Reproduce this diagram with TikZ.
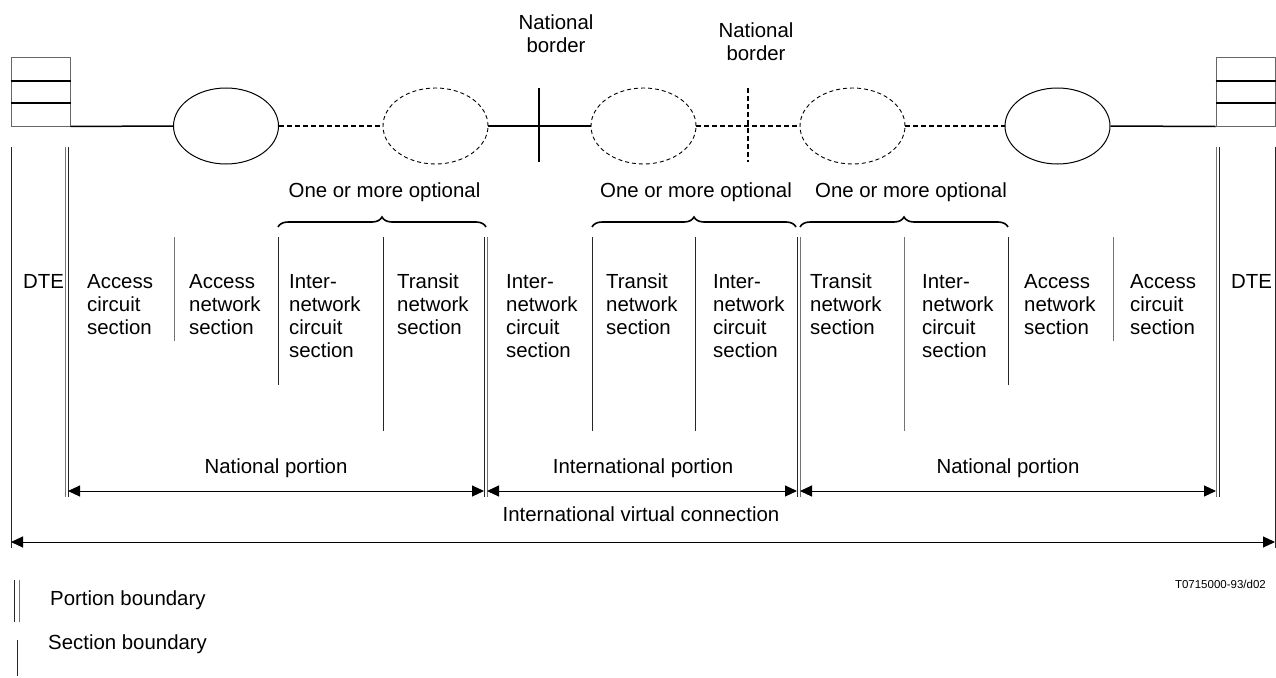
\documentclass[tikz,border=0pt]{standalone}
\usepackage{fontspec}
\setmainfont{Liberation Sans}
\usetikzlibrary{arrows.meta,decorations.pathreplacing,shapes.geometric}
\newcommand{\tstrut}{\rule{0pt}{16pt}}
\begin{document}
\begin{tikzpicture}[x=1pt,y=-1pt,
  txt/.style={font=\fontsize{20.4}{23}\selectfont, inner sep=0pt, align=left, anchor=north west},
  ctxt/.style={font=\fontsize{20.4}{23}\selectfont, inner sep=0pt, align=center, anchor=north},
  conn/.style={line width=1.5pt},
  dconn/.style={line width=1.5pt, dash pattern=on 5pt off 3pt},
  ell/.style={ellipse, draw, line width=1pt, minimum width=105pt, minimum height=76pt, inner sep=0pt},
  dell/.style={ell, line width=0.9pt, dash pattern=on 4pt off 3pt},
  dtebox/.style={draw=black!60, line width=1pt, minimum width=59pt, minimum height=68pt, inner sep=0pt},
  bline/.style={line width=1pt, black!85},
  bline2/.style={line width=1pt, black!55},
  brc/.style={decorate, decoration={brace, amplitude=10pt}, line width=1.6pt},
  arr/.style={line width=1pt, {Triangle[length=12pt,width=11pt]}-{Triangle[length=12pt,width=11pt]}},
  border/.style={line width=1.8pt}
]
\useasboundingbox (0,0) rectangle (1276,677);

% DTE boxes
\node[dtebox] (dteL) at (40.5,92) {};
\draw[line width=1.6pt] (dteL.west |- 0,81) -- (dteL.east |- 0,81);
\draw[line width=1.6pt] (dteL.west |- 0,103) -- (dteL.east |- 0,103);
\node[dtebox] (dteR) at (1245.5,92) {};
\draw[line width=1.6pt] (dteR.west |- 0,81) -- (dteR.east |- 0,81);
\draw[line width=1.6pt] (dteR.west |- 0,103) -- (dteR.east |- 0,103);

% ellipses
\node[ell]  (e1) at (226,126) {};
\node[dell] (e2) at (435.5,126) {};
\node[dell] (e3) at (643.5,126) {};
\node[dell] (e4) at (852.5,126) {};
\node[ell]  (e5) at (1057.5,126) {};

% connectors
\draw[conn] (dteL.south east) -- (e1.west);
\draw[dconn] (e1.east) -- (e2.west);
\draw[conn] (e2.east) -- (e3.west);
\draw[dconn] (e3.east) -- (e4.west);
\draw[dconn] (e4.east) -- (e5.west);
\draw[conn] (e5.east) -- (dteR.south west);

% national borders
\coordinate (b1t) at (539,88); \coordinate (b1b) at (539,162);
\coordinate (b2t) at (748,88); \coordinate (b2b) at (748,162);
\draw[border] (b1t) -- (b1b);
\draw[border, dash pattern=on 5pt off 3pt] (b2t) -- (b2b);
\node[ctxt] (nb1) at (556,13) {\tstrut National\\border};
\node[ctxt] (nb2) at (756,21) {\tstrut National\\border};

% optional labels and braces
\node[ctxt] (opt1) at (384.5,181) {\tstrut One or more optional};
\node[ctxt] (opt2) at (696,181) {\tstrut One or more optional};
\node[ctxt] (opt3) at (911,181) {\tstrut One or more optional};
\draw[brc] (278,227) -- (486,227);
\draw[brc] (592,227) -- (796,227);
\draw[brc] (800,227) -- (1008,227);

% outer DTE boundaries
\draw[bline] (11,147) -- (11,548);
\draw[bline] (1275,147) -- (1275,548);
% portion boundaries
\draw[bline2] (65,147) -- (65,497); \draw[bline] (68,147) -- (68,497);
\draw[bline] (484,237) -- (484,497); \draw[bline2] (487,237) -- (487,497);
\draw[bline] (797,237) -- (797,497); \draw[bline2] (800,237) -- (800,497);
\draw[bline2] (1216,147) -- (1216,497); \draw[bline] (1219,147) -- (1219,497);
% section boundaries
\draw[bline2] (174,237) -- (174,341);
\draw[bline] (278,237) -- (278,385);
\draw[bline] (383,237) -- (383,431);
\draw[bline] (592,237) -- (592,431);
\draw[bline] (695,237) -- (695,431);
\draw[bline2] (904,237) -- (904,431);
\draw[bline] (1008,237) -- (1008,385);
\draw[bline2] (1113,237) -- (1113,341);

% section labels
\node[txt] (dte1) at (23,272) {\tstrut DTE};
\node[txt] (s1) at (87,272) {\tstrut Access\\circuit\\section};
\node[txt] (s2) at (189,272) {\tstrut Access\\network\\section};
\node[txt] (s3) at (289,272) {\tstrut Inter-\\network\\circuit\\section};
\node[txt] (s4) at (397,272) {\tstrut Transit\\network\\section};
\node[txt] (s5) at (506,272) {\tstrut Inter-\\network\\circuit\\section};
\node[txt] (s6) at (606,272) {\tstrut Transit\\network\\section};
\node[txt] (s7) at (713,272) {\tstrut Inter-\\network\\circuit\\section};
\node[txt] (s8) at (810,272) {\tstrut Transit\\network\\section};
\node[txt] (s9) at (922,272) {\tstrut Inter-\\network\\circuit\\section};
\node[txt] (s10) at (1024,272) {\tstrut Access\\network\\section};
\node[txt] (s11) at (1130,272) {\tstrut Access\\circuit\\section};
\node[txt] (dte2) at (1231,272) {\tstrut DTE};

% portions
\node[ctxt] (np1) at (276,457) {\tstrut National portion};
\node[ctxt] (ip) at (643,457) {\tstrut International portion};
\node[ctxt] (np2) at (1008,457) {\tstrut National portion};
\coordinate (a1) at (68,491); \coordinate (a2) at (484,491);
\coordinate (a3) at (487,491); \coordinate (a4) at (797,491);
\coordinate (a5) at (800,491); \coordinate (a6) at (1216,491);
\draw[arr] (a1) -- (a2);
\draw[arr] (a3) -- (a4);
\draw[arr] (a5) -- (a6);
\node[ctxt] (ivc) at (641,505) {\tstrut International virtual connection};
\coordinate (c1) at (11,542); \coordinate (c2) at (1275,542);
\draw[arr] (c1) -- (c2);

\node[font=\fontsize{11.5}{13}\selectfont, inner sep=0pt, anchor=base east] (ref) at (1266,588) {T0715000-93/d02};

% legend
\draw[bline] (14,580) -- (14,622); \draw[bline2] (19,580) -- (19,622);
\node[font=\fontsize{20.4}{23}\selectfont, inner sep=0pt, anchor=base west] (lg1) at (50,605) {Portion boundary};
\draw[bline] (17,640) -- (17,676);
\node[font=\fontsize{20.4}{23}\selectfont, inner sep=0pt, anchor=base west] (lg2) at (48,649) {Section boundary};
\end{tikzpicture}
\end{document}
